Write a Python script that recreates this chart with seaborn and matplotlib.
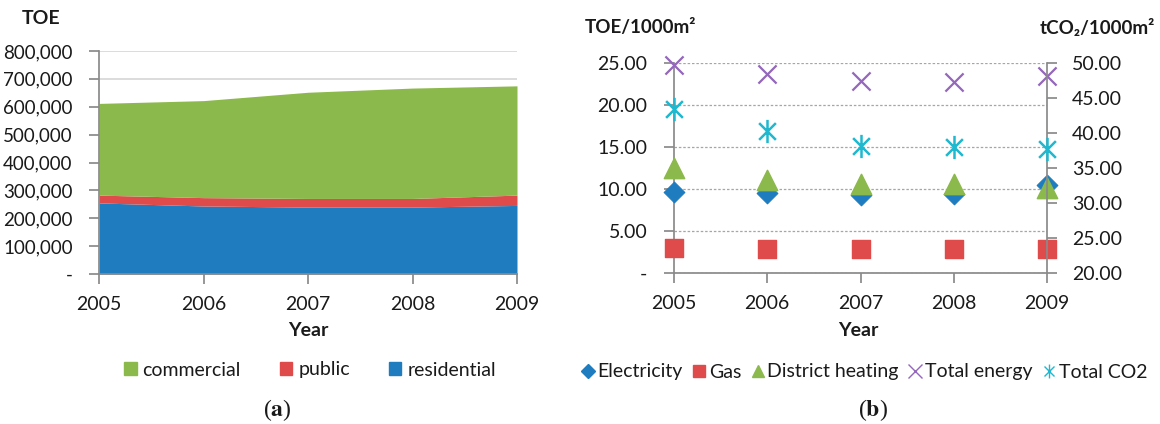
import matplotlib
matplotlib.use("Agg")
import matplotlib.pyplot as plt
from matplotlib.ticker import FuncFormatter, MultipleLocator
from matplotlib.lines import Line2D
from matplotlib.patches import Patch
from matplotlib.path import Path
import seaborn as sns

# data
years = [2005, 2006, 2007, 2008, 2009]
residential = [255000, 244000, 240000, 240000, 246000]
public = [28000, 30000, 31000, 31000, 37000]
commercial = [329000, 348000, 381000, 396000, 392000]

electricity = [9.6, 9.5, 9.3, 9.4, 10.5]
gas = [3.0, 2.9, 2.8, 2.8, 2.8]
district = [12.5, 11.1, 10.6, 10.6, 10.1]
total_energy = [24.8, 23.7, 22.8, 22.7, 23.4]
total_co2 = [43.4, 40.3, 38.2, 38.0, 37.7]

c_res, c_pub, c_com = "#1f7dbf", "#df4b4b", "#8cb94b"
c_el, c_gas, c_dh, c_te, c_co2 = "#1f7dbf", "#df4b4b", "#8cb94b", "#9467bd", "#1fb8cf"
grey = "#8a8a8a"
txt = "#1a1a1a"

sns.set_theme(style="ticks")
plt.rcParams['font.family'] = ['Lato', 'DejaVu Sans']
plt.rcParams['mathtext.fontset'] = 'stix'

# asterisk marker (x plus vertical bar)
star = Path([(0, -1), (0, 1), (-0.72, -0.72), (0.72, 0.72), (-0.72, 0.72), (0.72, -0.72)],
            [Path.MOVETO, Path.LINETO, Path.MOVETO, Path.LINETO, Path.MOVETO, Path.LINETO])

W, H = 1160, 424
fig = plt.figure(figsize=(W / 100, H / 100), dpi=100)
ax1 = fig.add_axes([99 / W, 1 - 274 / H, 418 / W, 223 / H])
ax2 = fig.add_axes([674 / W, 1 - 273 / H, 373 / W, 210 / H])
ax3 = ax2.twinx()

# (a) stacked area
ax1.stackplot(years, residential, public, commercial,
              colors=[c_res, c_pub, c_com], linewidth=0)
ax1.set_xlim(2005, 2009)
ax1.set_ylim(0, 800000)
ax1.set_xticks(years)
ax1.yaxis.set_major_locator(MultipleLocator(100000))
ax1.yaxis.set_major_formatter(FuncFormatter(lambda v, p: '-' if v == 0 else f'{v:,.0f}'))
ax1.yaxis.grid(True, color='#d9d9d9', lw=1.3)
ax1.set_axisbelow(True)
for s in ['top', 'right']:
    ax1.spines[s].set_visible(False)
for s in ['left', 'bottom']:
    ax1.spines[s].set_color(grey)
ax1.tick_params(axis='x', length=7, color=grey, labelsize=14, labelcolor=txt, pad=9)
ax1.tick_params(axis='y', length=7, color=grey, labelsize=13.5, labelcolor=txt, pad=12)

# (b) scatter on two axes
sns.scatterplot(x=years, y=total_energy, ax=ax2, marker='x', color=c_te, s=170,
                linewidth=1.6, clip_on=False, zorder=3)
sns.scatterplot(x=years, y=electricity, ax=ax2, marker='D', color=c_el, edgecolor=c_el,
                s=110, clip_on=False, zorder=3)
sns.scatterplot(x=years, y=gas, ax=ax2, marker='s', color=c_gas, edgecolor=c_gas,
                s=160, clip_on=False, zorder=3)
sns.scatterplot(x=years, y=district, ax=ax2, marker='^', color=c_dh, edgecolor=c_dh,
                s=210, clip_on=False, zorder=3)
sns.scatterplot(x=years, y=total_co2, ax=ax3, marker=star, color=c_co2, edgecolor=c_co2,
                s=280, linewidth=1.8, clip_on=False, zorder=3)

ax2.set_xlim(2005, 2009)
ax2.set_ylim(0, 25)
ax3.set_ylim(20, 50)
ax2.set_xticks(years)
ax2.yaxis.set_major_locator(MultipleLocator(5))
ax3.yaxis.set_major_locator(MultipleLocator(5))
ax2.yaxis.set_major_formatter(FuncFormatter(lambda v, p: '-' if v == 0 else f'{v:.2f}'))
ax3.yaxis.set_major_formatter(FuncFormatter(lambda v, p: f'{v:.2f}'))
ax2.yaxis.grid(True, color='#a6a6a6', lw=0.9, ls=(0, (2, 1.5)))
ax2.set_axisbelow(True)
for a in (ax2, ax3):
    a.spines['top'].set_visible(False)
    for s in ['left', 'right', 'bottom']:
        a.spines[s].set_color(grey)
ax2.spines['right'].set_visible(False)
ax3.spines['left'].set_visible(False)
ax3.spines['bottom'].set_visible(False)
ax2.tick_params(axis='x', length=7, color=grey, labelsize=14, labelcolor=txt, pad=9)
ax2.tick_params(axis='y', length=7, color=grey, labelsize=14, labelcolor=txt, pad=12)
ax3.tick_params(axis='y', length=7, color=grey, labelsize=14, labelcolor=txt, pad=11)
for a in (ax2, ax3):
    a.set_xlabel('')
    a.set_ylabel('')

# titles, axis labels
fig.text(22 / W, 1 - 19 / H, "TOE", weight='bold', fontsize=14, color=txt, va='center')
fig.text(585 / W, 1 - 27 / H, "TOE/1000m²", weight='bold', fontsize=13.5, color=txt, va='center')
fig.text(1155 / W, 1 - 28 / H, "tCO₂/1000m²", weight='bold', fontsize=13.5, color=txt,
         ha='right', va='center')
fig.text(308 / W, 1 - 331 / H, "Year", weight='bold', fontsize=14, color=txt, ha='center', va='center')
fig.text(858 / W, 1 - 331 / H, "Year", weight='bold', fontsize=14, color=txt, ha='center', va='center')

# legends
h1 = [Patch(color=c_com), Patch(color=c_pub), Patch(color=c_res)]
fig.legend(h1, ['commercial', 'public', 'residential'], loc='center',
           bbox_to_anchor=(310 / W, 1 - 370 / H), ncol=3, frameon=False, fontsize=14,
           handlelength=0.65, handleheight=0.65, handletextpad=0.3, columnspacing=2.0,
           labelcolor=txt)
h2 = [Line2D([], [], ls='none', marker='D', color=c_el, markersize=7),
      Line2D([], [], ls='none', marker='s', color=c_gas, markersize=9),
      Line2D([], [], ls='none', marker='^', color=c_dh, markersize=9),
      Line2D([], [], ls='none', marker='x', color=c_te, markersize=10, markeredgewidth=1.0),
      Line2D([], [], ls='none', marker=star, color=c_co2, markersize=10, markeredgewidth=1.0)]
fig.legend(h2, ['Electricity', 'Gas', 'District heating', 'Total energy', 'Total CO2'],
           loc='center', bbox_to_anchor=(864 / W, 1 - 372 / H), ncol=5, frameon=False,
           fontsize=14, handlelength=0.7, handletextpad=0.15, columnspacing=0.5,
           labelcolor=txt)

fig.text(277 / W, 1 - 410 / H, r"($\mathbf{a}$)", family='Liberation Serif', fontsize=17,
         color=txt, ha='center', va='center')
fig.text(873 / W, 1 - 410 / H, r"($\mathbf{b}$)", family='Liberation Serif', fontsize=17,
         color=txt, ha='center', va='center')

fig.savefig("out.png", dpi=100)
